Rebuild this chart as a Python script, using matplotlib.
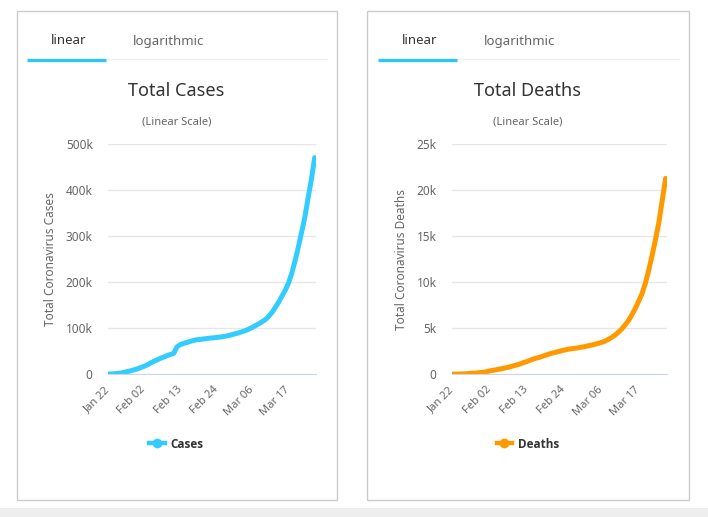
import matplotlib
matplotlib.use('Agg')
import matplotlib.pyplot as plt
from matplotlib.lines import Line2D
from matplotlib.patches import Rectangle
from matplotlib.ticker import FuncFormatter

plt.rcParams['font.family'] = ['Noto Sans', 'DejaVu Sans']

# daily totals, Jan 22 .. Mar 25
dates = ['Jan 22', 'Jan 23', 'Jan 24', 'Jan 25', 'Jan 26', 'Jan 27', 'Jan 28', 'Jan 29', 'Jan 30', 'Jan 31',
         'Feb 01', 'Feb 02', 'Feb 03', 'Feb 04', 'Feb 05', 'Feb 06', 'Feb 07', 'Feb 08', 'Feb 09', 'Feb 10',
         'Feb 11', 'Feb 12', 'Feb 13', 'Feb 14', 'Feb 15', 'Feb 16', 'Feb 17', 'Feb 18', 'Feb 19', 'Feb 20',
         'Feb 21', 'Feb 22', 'Feb 23', 'Feb 24', 'Feb 25', 'Feb 26', 'Feb 27', 'Feb 28', 'Feb 29',
         'Mar 01', 'Mar 02', 'Mar 03', 'Mar 04', 'Mar 05', 'Mar 06', 'Mar 07', 'Mar 08', 'Mar 09', 'Mar 10',
         'Mar 11', 'Mar 12', 'Mar 13', 'Mar 14', 'Mar 15', 'Mar 16', 'Mar 17', 'Mar 18', 'Mar 19', 'Mar 20',
         'Mar 21', 'Mar 22', 'Mar 23', 'Mar 24', 'Mar 25']

cases = [580, 845, 1317, 2015, 2800, 4581, 6058, 7813, 9823, 11950,
         14553, 17391, 20630, 24545, 28266, 31439, 34876, 37552, 40553, 43099,
         45134, 59287, 64438, 67100, 69197, 71329, 73332, 75184, 75700, 76677,
         77673, 78651, 79205, 80087, 80828, 81820, 83112, 84615, 86604,
         88585, 90443, 93016, 95314, 98425, 102050, 106099, 109991, 114381, 118948,
         126214, 134576, 145483, 156653, 169593, 182490, 198238, 218822, 246417, 275875,
         308463, 341365, 383580, 424108, 471035]

deaths = [17, 18, 26, 42, 56, 82, 131, 133, 171, 213,
          259, 362, 426, 492, 564, 634, 719, 806, 906, 1013,
          1113, 1260, 1380, 1523, 1666, 1770, 1868, 2007, 2122, 2247,
          2340, 2440, 2530, 2629, 2708, 2770, 2814, 2872, 2941,
          2996, 3085, 3160, 3254, 3348, 3460, 3580, 3780, 3990, 4240,
          4550, 4900, 5350, 5819, 6440, 7126, 7905, 8733, 9867, 11299,
          12900, 14641, 16497, 18916, 21300]

W, H = 708, 517
fig = plt.figure(figsize=(W / 100, H / 100), dpi=100)


def fx(x):
    return x / W


def fy(y):
    return 1 - y / H


# grey strip at the bottom of the page
fig.patches.append(Rectangle((0, 0), 1, fy(507.5), transform=fig.transFigure,
                             facecolor='#eeeeee', edgecolor='none', zorder=-5))

panels = [
    dict(x0=16.5, x1=336.5, ax_l=108, ax_r=316, data=cases, color='#33ccff',
         title='Total Cases', ylabel='Total Coronavirus Cases', name='Cases',
         ymax=500000, step=100000),
    dict(x0=367.5, x1=688.5, ax_l=452, ax_r=667, data=deaths, color='#ff9900',
         title='Total Deaths', ylabel='Total Coronavirus Deaths', name='Deaths',
         ymax=25000, step=5000),
]

for p in panels:
    x0, x1 = p['x0'], p['x1']
    cx = (x0 + x1) / 2
    # card
    fig.patches.append(Rectangle((fx(x0), fy(499.5)), fx(x1 - x0), (499.5 - 10.5) / H,
                                 transform=fig.transFigure, facecolor='white',
                                 edgecolor='#cccccc', lw=1, zorder=-5))
    # tabs
    tab_l = x0 + 10.5
    fig.lines.append(Line2D([fx(tab_l + 79), fx(x1 - 10)], [fy(58.5), fy(58.5)],
                            transform=fig.transFigure, color='#eeeeee', lw=1))
    fig.lines.append(Line2D([fx(tab_l), fx(tab_l + 79)], [fy(60.3), fy(60.3)],
                            transform=fig.transFigure, color='#2fc7f2', lw=2.4,
                            solid_capstyle='butt'))
    fig.text(fx(tab_l + 42), fy(41), 'linear', ha='center', va='center',
             fontsize=9.5, color='#333333')
    fig.text(fx(tab_l + 142), fy(41), 'logarithmic', ha='center', va='center',
             fontsize=9.5, color='#666666')

    fig.text(fx(cx), fy(91), p['title'], ha='center', va='center',
             fontsize=13, color='#333333')
    fig.text(fx(cx), fy(122), '(Linear Scale)', ha='center', va='center',
             fontsize=8, color='#666666')

    ax = fig.add_axes([fx(p['ax_l']), fy(374.3), fx(p['ax_r'] - p['ax_l']), (374.3 - 144.3) / H])
    ax.patch.set_alpha(0)
    xs = list(range(len(dates)))
    ax.plot(xs, p['data'], color=p['color'], lw=3.6, solid_capstyle='round',
            solid_joinstyle='round', label=p['name'])
    ax.set_xlim(0, len(dates) - 0.6)
    ax.set_ylim(0, p['ymax'])
    ax.set_yticks(range(0, p['ymax'] + 1, p['step']))
    ax.yaxis.set_major_formatter(FuncFormatter(lambda v, pos: '0' if v == 0 else f'{int(v / 1000)}k'))
    ax.set_xticks(xs[::11])
    ax.set_xticklabels(dates[::11], rotation=45, ha='right', va='center',
                       rotation_mode='anchor')
    ax.tick_params(axis='x', length=0, pad=10, labelsize=8, labelcolor='#666666')
    ax.tick_params(axis='y', length=0, pad=11, labelsize=8.5, labelcolor='#666666')
    ax.grid(axis='y', color='#e6e6e6', lw=1)
    ax.set_axisbelow(True)
    for s in ['top', 'right', 'left']:
        ax.spines[s].set_visible(False)
    ax.spines['bottom'].set_color('#ccd6eb')
    ax.set_ylabel(p['ylabel'], fontsize=8.5, color='#666666', labelpad=6)

    # legend marker: short line with a dot, a bit smaller than before
    handle = Line2D([], [], color=p['color'], lw=3.2, marker='o', markersize=6)
    ax.legend([handle], [p['name']], loc='center', frameon=False,
              bbox_to_anchor=(fx(cx), fy(444)), bbox_transform=fig.transFigure,
              handlelength=1.3, handletextpad=0.5,
              prop={'family': ['Open Sans', 'DejaVu Sans'], 'weight': 'bold', 'size': 8.5})
    ax.get_legend().get_texts()[0].set_color('#333333')

fig.savefig('out.png', dpi=100)
